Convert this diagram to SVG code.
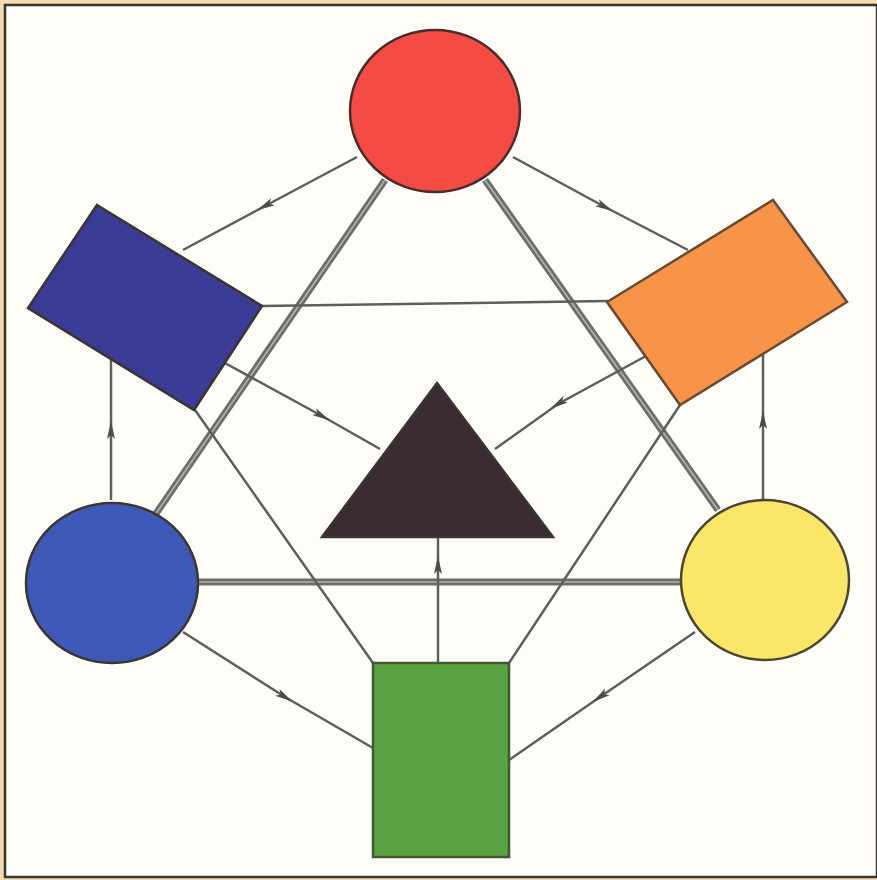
<svg xmlns="http://www.w3.org/2000/svg" width="877" height="880" viewBox="0 0 877 880">
<defs>
<style>
.ln{stroke:#5c605a;stroke-width:2.5;fill:none}
.ar{stroke:#5c605a;stroke-width:2.5;fill:none;marker-mid:url(#ah)}
.dbl{stroke:#6c6e6a;stroke-width:7;fill:none}
.dblc{stroke:#b4b4ae;stroke-width:1.6;fill:none}
.sh{stroke:#3a3530;stroke-width:2.5}
</style>
<marker id="ah" markerWidth="18" markerHeight="12" refX="9" refY="6" orient="auto" markerUnits="userSpaceOnUse">
<path d="M0,2 L18,6 L0,10 L4,6 Z" fill="#4a4e48"/>
</marker>
</defs>
<rect x="0" y="0" width="877" height="880" fill="#f3dcae"/>
<rect x="5" y="5" width="872" height="872" fill="#fffdf7" stroke="#3a3632" stroke-width="2.5"/>
<g id="connectors">
<path class="ar" d="M357,157 L265,206 L183,250"/>
<path class="ar" d="M513,157 L605,207 L688,250"/>
<path class="dbl" d="M385,180 L155,515"/>
<path class="dblc" d="M385,180 L155,515"/>
<path class="dbl" d="M485,180 L718,510"/>
<path class="dblc" d="M485,180 L718,510"/>
<path class="ln" d="M262,306 L608,301"/>
<path class="ar" d="M223,362 L322,416 L380,449"/>
<path class="ar" d="M646,356 L558,404 L495,449"/>
<path class="ar" d="M111,500 L111,430 L111,359"/>
<path class="ar" d="M763,500 L763,420 L763,354"/>
<path class="dbl" d="M198,582 L682,582"/>
<path class="dblc" d="M198,582 L682,582"/>
<path class="ar" d="M438,663 L438,565 L438,538"/>
<path class="ar" d="M183,632 L285,697 L373,748"/>
<path class="ar" d="M695,632 L600,697 L509,760"/>
<path class="ln" d="M195,410 L373,663"/>
<path class="ln" d="M680,405 L509,663"/>
</g>
<g id="red-circle"><ellipse cx="435" cy="111" rx="85" ry="81" fill="#f44b45" stroke="#4a2c28" stroke-width="2.5"/></g>
<g id="blue-rect"><polygon class="sh" points="97,205 262,306 194,410 28,308" fill="#3a3c96"/></g>
<g id="orange-rect"><polygon points="773,200 847,302 680,405 607,302" fill="#f8944a" stroke="#6a4a30" stroke-width="2.5"/></g>
<g id="triangle"><polygon class="sh" points="437,383 553,537 322,537" fill="#3b2b33"/></g>
<g id="blue-circle"><ellipse class="sh" cx="112" cy="583" rx="86" ry="80" fill="#3f59b8"/></g>
<g id="yellow-circle"><ellipse cx="765" cy="580" rx="84" ry="80" fill="#fae76a" stroke="#4a4630" stroke-width="2.5"/></g>
<g id="green-rect"><rect x="373" y="663" width="136" height="194" fill="#5aa343" stroke="#3d5a33" stroke-width="2.5"/></g>
</svg>
